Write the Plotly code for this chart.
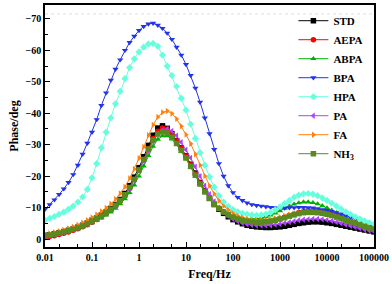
import plotly.graph_objects as go

# frequencies: 10 points per decade from 0.01 Hz to 100000 Hz
freq_exponents = [-2 + k / 10 for k in range(71)]
freq = [10 ** e for e in freq_exponents]

# phase magnitudes (deg); plotted as negative phase
STD = [1.2, 1.4, 1.7, 2.0, 2.4, 2.8, 3.2, 3.8, 4.4, 5.1,
       6.0, 6.8, 7.7, 8.6, 9.7, 11.0, 12.6, 14.5, 17.0, 19.7,
       22.7, 26.2, 29.8, 33.0, 35.3, 36.0, 35.2, 33.5, 31.3, 29.0,
       26.5, 23.8, 21.0, 18.0, 15.3, 13.0, 11.0, 9.5, 8.2, 7.1,
       6.2, 5.5, 4.9, 4.4, 4.1, 3.9, 3.8, 3.7, 3.7, 3.8,
       3.9, 4.1, 4.4, 4.7, 5.0, 5.2, 5.4, 5.5, 5.5, 5.4,
       5.2, 5.0, 4.7, 4.4, 4.1, 3.8, 3.5, 3.2, 2.9, 2.6, 2.3]
AEPA = [0.5, 0.8, 1.1, 1.5, 1.9, 2.3, 2.8, 3.3, 3.9, 4.6,
        5.4, 6.2, 7.1, 8.1, 9.2, 10.5, 12.0, 13.8, 16.2, 18.9,
        21.9, 25.3, 28.8, 32.0, 34.3, 35.3, 34.9, 33.3, 31.2, 28.9,
        26.4, 23.6, 20.7, 17.8, 15.2, 13.0, 11.2, 9.8, 8.7, 7.8,
        7.1, 6.5, 6.1, 5.8, 5.6, 5.5, 5.5, 5.6, 5.8, 6.1,
        6.5, 7.0, 7.5, 8.0, 8.5, 8.8, 9.0, 9.1, 9.0, 8.8,
        8.5, 8.0, 7.5, 6.9, 6.3, 5.7, 5.1, 4.6, 4.1, 3.6, 3.2]
ABPA = [1.0, 1.2, 1.5, 1.8, 2.1, 2.5, 2.9, 3.4, 3.9, 4.5,
        5.2, 5.9, 6.7, 7.6, 8.6, 9.8, 11.2, 12.8, 14.8, 17.2,
        20.0, 23.2, 26.5, 29.5, 31.7, 32.8, 32.8, 31.8, 30.0, 27.9,
        25.5, 22.8, 20.0, 17.3, 14.8, 12.7, 11.0, 9.7, 8.7, 7.9,
        7.3, 6.9, 6.6, 6.4, 6.4, 6.5, 6.7, 7.1, 7.6, 8.3,
        9.0, 9.8, 10.5, 11.1, 11.5, 11.8, 11.8, 11.6, 11.2, 10.6,
        9.9, 9.2, 8.4, 7.6, 6.9, 6.2, 5.6, 5.0, 4.5, 4.0, 3.6]
BPA = [9.5, 11.0, 12.5, 14.2, 16.0, 18.0, 20.5, 23.5, 27.0, 30.5,
       34.0, 38.0, 42.5, 46.5, 50.5, 54.0, 57.0, 60.0, 62.5, 64.5,
       66.3, 67.6, 68.4, 68.6, 68.0, 67.0, 65.5, 63.5, 61.0, 58.5,
       55.5, 52.0, 48.0, 43.5, 38.5, 33.5, 28.5, 24.0, 20.0, 17.0,
       14.8, 13.3, 12.3, 11.5, 11.0, 10.7, 10.5, 10.3, 10.1, 10.0,
       9.9, 9.9, 10.0, 10.0, 10.1, 10.1, 10.0, 9.9, 9.7, 9.4,
       9.1, 8.8, 8.4, 8.0, 7.5, 7.0, 6.5, 6.0, 5.4, 4.8, 4.2]
HPA = [6.0, 6.6, 7.2, 7.9, 8.6, 9.5, 10.5, 11.8, 13.4, 15.8,
       19.5, 24.0, 29.0, 34.0, 38.5, 43.0, 47.0, 51.0, 54.5, 57.3,
       59.5, 61.0, 62.0, 62.2, 61.3, 58.5, 55.0, 52.0, 48.5, 44.8,
       41.0, 36.5, 32.0, 27.5, 23.5, 19.8, 16.5, 13.8, 11.8, 10.4,
       9.4, 8.7, 8.2, 7.9, 7.7, 7.6, 7.7, 8.0, 8.5, 9.3,
       10.3, 11.3, 12.3, 13.3, 14.0, 14.4, 14.5, 14.3, 13.8, 13.1,
       12.3, 11.4, 10.5, 9.6, 8.7, 7.9, 7.1, 6.4, 5.8, 5.2, 4.7]
PA = [0.9, 1.1, 1.4, 1.7, 2.1, 2.5, 3.0, 3.5, 4.1, 4.8,
      5.5, 6.3, 7.2, 8.2, 9.3, 10.6, 12.1, 13.9, 16.1, 18.7,
      21.6, 24.8, 28.0, 31.0, 33.3, 34.6, 35.0, 34.4, 32.9, 30.8,
      28.4, 25.8, 23.0, 20.0, 17.0, 14.3, 12.0, 10.0, 8.5, 7.3,
      6.4, 5.7, 5.1, 4.7, 4.5, 4.3, 4.3, 4.3, 4.4, 4.6,
      4.8, 5.1, 5.4, 5.7, 6.0, 6.2, 6.3, 6.4, 6.4, 6.3,
      6.1, 5.8, 5.4, 5.0, 4.6, 4.2, 3.8, 3.4, 3.0, 2.7, 2.4]
FA = [1.5, 1.8, 2.1, 2.5, 2.9, 3.4, 3.9, 4.5, 5.2, 6.0,
      6.9, 7.8, 8.8, 9.9, 11.2, 12.7, 14.5, 16.6, 19.3, 22.3,
      25.7, 29.3, 33.0, 36.3, 38.8, 40.3, 40.7, 39.9, 38.2, 35.9,
      33.2, 30.3, 27.0, 23.5, 20.1, 17.0, 14.4, 12.2, 10.5, 9.2,
      8.2, 7.4, 6.8, 6.4, 6.1, 6.0, 6.0, 6.1, 6.3, 6.6,
      7.0, 7.4, 7.8, 8.1, 8.4, 8.6, 8.7, 8.7, 8.6, 8.3,
      8.0, 7.6, 7.1, 6.6, 6.1, 5.6, 5.1, 4.6, 4.1, 3.7, 3.3]
NH3 = [1.1, 1.3, 1.6, 1.9, 2.3, 2.7, 3.1, 3.6, 4.2, 4.9,
       5.7, 6.5, 7.4, 8.4, 9.5, 10.8, 12.3, 14.1, 16.4, 19.0,
       22.0, 25.3, 28.6, 31.5, 33.4, 34.1, 33.7, 32.4, 30.4, 28.2,
       25.8, 23.1, 20.3, 17.5, 15.0, 12.9, 11.1, 9.7, 8.6, 7.7,
       7.0, 6.4, 6.0, 5.7, 5.5, 5.4, 5.4, 5.5, 5.7, 6.0,
       6.4, 6.8, 7.3, 7.7, 8.1, 8.4, 8.5, 8.5, 8.4, 8.2,
       7.9, 7.5, 7.0, 6.5, 6.0, 5.5, 5.0, 4.5, 4.0, 3.6, 3.2]

series_names = ["STD", "AEPA", "ABPA", "BPA", "HPA", "PA", "FA", "NH<sub>3</sub>"]
series_values = [STD, AEPA, ABPA, BPA, HPA, PA, FA, NH3]
colors = ["#000000", "#ff0000", "#00b000", "#2233ee", "#66ffdd", "#b040ff", "#ff8010", "#5a8a1e"]
symbols = ["square", "circle", "triangle-up", "triangle-down", "diamond",
           "triangle-left", "triangle-right", "square"]

x_tickvals = [0.01, 0.1, 1, 10, 100, 1000, 10000, 100000]
x_ticktext = ["0.01", "0.1", "1", "10", "100", "1000", "10000", "100000"]
y_tickvals = [-70, -60, -50, -40, -30, -20, -10, 0]

fig = go.Figure()
for name, vals, c, s in zip(series_names, series_values, colors, symbols):
    fig.add_trace(go.Scatter(
        x=freq, y=[-v for v in vals], name=name, mode="lines+markers",
        line=dict(color=c, width=1),
        marker=dict(symbol=s, size=5.5, color=c, line=dict(width=0)),
    ))

font_family = "Liberation Serif"
fig.update_layout(
    width=392, height=284,
    margin=dict(l=45, r=15, t=3, b=37),
    paper_bgcolor="white", plot_bgcolor="white",
    font=dict(family=font_family, size=10, color="black", weight="bold"),
    showlegend=True,
    legend=dict(x=0.755, y=0.995, xanchor="left", yanchor="top",
                bgcolor="rgba(0,0,0,0)", font=dict(size=11, weight="bold"),
                tracegroupgap=0, itemwidth=30),
)
fig.update_xaxes(
    type="log", range=[-2, 5],
    tickvals=x_tickvals, ticktext=x_ticktext,
    ticks="inside", ticklen=5, tickwidth=1, tickcolor="black",
    minor=dict(ticks="inside", ticklen=3, tickwidth=1, tickcolor="black", showgrid=False),
    showline=True, linecolor="black", linewidth=1.5, mirror=True,
    showgrid=False, zeroline=False,
    title=dict(text="Freq/Hz", font=dict(size=12, weight="bold"), standoff=8),
    tickfont=dict(size=10, weight="bold"),
)
fig.update_yaxes(
    range=[2.5, -74.4],
    tickvals=y_tickvals,
    ticks="inside", ticklen=5, tickwidth=1, tickcolor="black",
    minor=dict(ticks="inside", ticklen=3, dtick=5, tickwidth=1, tickcolor="black", showgrid=False),
    showline=True, linecolor="black", linewidth=1.5, mirror=True,
    showgrid=False, zeroline=False,
    title=dict(text="Phase/deg", font=dict(size=12, weight="bold"), standoff=4),
    tickfont=dict(size=10, weight="bold"),
)
fig.add_shape(type="line", xref="paper", yref="paper", x0=0, x1=1, y0=0.963, y1=0.963,
              line=dict(color="#dddddd", width=1, dash="dot"), layer="below")
fig.write_html("out.html", config={"displayModeBar": False},
               post_script="document.body.style.margin='0';")
